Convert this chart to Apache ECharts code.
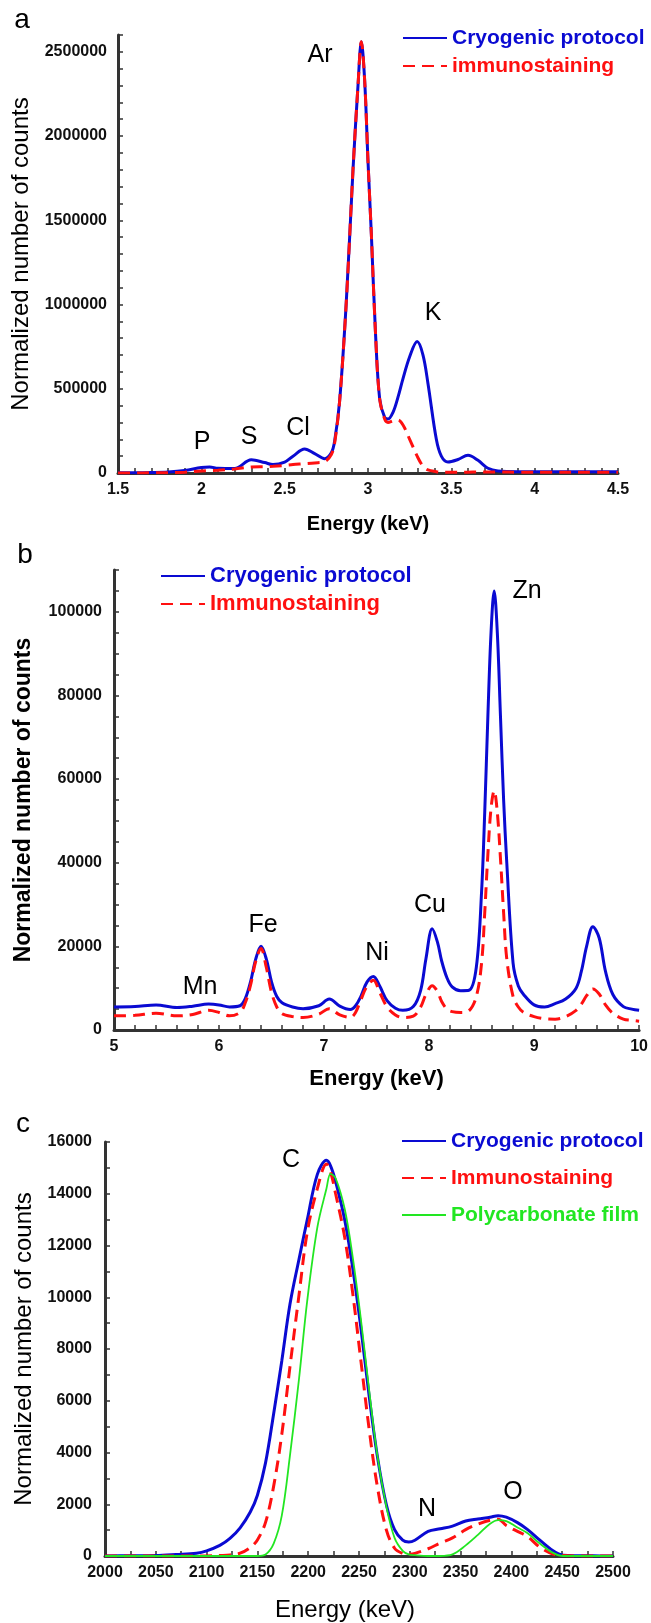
<!DOCTYPE html>
<html>
<head>
<meta charset="utf-8">
<script src="https://cdn.jsdelivr.net/npm/echarts@6/dist/echarts.min.js"></script>
<style>
html,body{margin:0;padding:0;background:#fff;}
#main{width:651px;height:1623px;}
</style>
</head>
<body>
<div id="main"></div>
<script>
// panel a : 1.5 - 4.5 keV
var energyA = [1.5,1.6,1.7,1.8,1.9,2.0,2.05,2.1,2.2,2.3,2.38,2.43,2.5,2.55,2.62,2.68,2.74,2.78,2.8,2.83,2.87,2.91,2.94,2.96,2.98,3.0,3.02,3.045,3.07,3.1,3.12,3.15,3.18,3.21,3.25,3.295,3.33,3.36,3.41,3.44,3.48,3.54,3.6,3.66,3.72,3.78,3.9,4.1,4.3,4.5];
var cryoA = [2000,2000,3000,6000,15000,33000,36000,28000,27000,78000,62000,50000,65000,100000,142000,115000,85000,120000,190000,430000,1020000,1800000,2300000,2560000,2330000,1850000,1420000,830000,440000,330000,320000,360000,450000,560000,690000,780000,700000,530000,200000,100000,65000,80000,105000,75000,28000,12000,8000,8000,8000,8000];
var immunoA = [0,0,1000,2000,5000,12000,14000,16000,24000,36000,38000,40000,45000,50000,55000,60000,68000,110000,180000,430000,1020000,1800000,2300000,2560000,2330000,1850000,1420000,830000,440000,320000,300000,310000,315000,285000,200000,100000,40000,18000,8000,5000,4000,4000,5000,6000,6000,6000,5000,5000,5000,5000];

// panel b : 5 - 10 keV
var energyB = [5.0,5.2,5.4,5.6,5.75,5.9,6.0,6.1,6.2,6.25,6.3,6.35,6.4,6.45,6.5,6.55,6.6,6.7,6.8,6.95,7.05,7.15,7.25,7.3,7.35,7.41,7.47,7.53,7.6,7.68,7.75,7.85,7.92,7.97,8.03,8.08,8.12,8.17,8.22,8.3,8.38,8.45,8.5,8.53,8.56,8.59,8.62,8.65,8.68,8.71,8.74,8.8,8.85,8.9,9.0,9.1,9.2,9.3,9.4,9.45,9.5,9.56,9.62,9.68,9.75,9.85,9.93,10.0];
var cryoB = [5500,5600,6000,5400,5700,6200,6000,5500,5800,7500,11500,17000,20000,17000,11500,8000,6500,5500,5100,5800,7400,5700,4900,5800,8000,11500,12800,10500,7000,5200,4700,5600,9500,17000,24200,21000,16500,12500,10300,9400,9500,15000,33000,52000,75000,95000,105000,95000,75000,55000,40000,16000,10500,8500,6000,5500,6300,7400,10000,14000,20000,24700,22000,14000,8500,5600,5000,4700];
var immunoB = [3400,3500,4000,3400,3700,4700,4200,3400,4200,6500,10700,16500,19500,15000,9000,5500,3900,3200,3000,3800,5100,3600,3000,4200,7200,10500,11900,9000,5500,3600,3000,3300,5500,8500,10600,9200,6800,5000,4400,4200,4600,8000,16000,28000,42000,53000,57200,52000,41000,28000,17000,8000,5500,4200,3200,2700,2600,3200,4700,6200,8200,9800,8600,6000,4000,2600,2300,2100];

// panel c : 2000 - 2500
var energyC = [2000,2025,2050,2070,2090,2100,2113,2123,2133,2143,2150,2158,2166,2174,2182,2191,2199,2209,2218,2222,2227,2236,2244,2252,2260,2268,2277,2285,2293,2299,2305,2318,2330,2342,2355,2367,2379,2387,2395,2406,2416,2428,2441,2451,2465,2480,2500];
var cryoC = [0,10,20,60,110,200,410,680,1090,1700,2350,3600,5500,7540,9720,11480,12980,14750,15290,15080,14470,12980,11080,8770,6180,3870,1970,1020,610,540,610,950,1050,1155,1350,1430,1500,1560,1500,1290,1020,610,200,30,10,5,0];
var immunoC = [0,0,0,0,0,0,20,40,110,330,620,1300,2700,4700,7300,10100,12500,14200,15150,14850,14000,12300,10100,7500,4900,2700,1000,300,100,70,100,280,500,700,1020,1230,1380,1420,1180,950,750,340,70,20,0,0,0];
var filmC = [0,0,0,0,0,0,0,0,0,0,0,60,480,1560,3870,6860,9850,12700,14200,14770,14600,13400,11500,9100,6400,3900,1900,700,200,60,30,0,0,60,410,815,1250,1390,1350,1100,880,480,120,0,0,0,0];

var FONT = 'Liberation Sans';
var BLUE = '#0a0ad2', RED = '#ff1010', GREEN = '#22e622', AXIS = '#333';

function zip(xs, ys) {
    return xs.map(function (x, i) { return [x, ys[i]]; });
}

function every(step, dec) {
    return function (v) {
        var r = v / step;
        if (Math.abs(r - Math.round(r)) > 1e-6) return '';
        return String(Math.round(v * dec) / dec);
    };
}

function xAxis(grid, min, max, step, labelStep, dec, name, gap, nameStyle) {
    return {
        type: 'value', gridIndex: grid, min: min, max: max, interval: step,
        name: name, nameLocation: 'middle', nameGap: gap, nameTextStyle: nameStyle,
        axisLine: {lineStyle: {color: AXIS, width: 3}},
        axisTick: {inside: true, length: 5, lineStyle: {color: AXIS, width: 1.5}},
        axisLabel: {formatter: every(labelStep, dec), color: '#111', fontFamily: FONT, fontWeight: 'bold', fontSize: 16, margin: 9},
        splitLine: {show: false}
    };
}

function yAxis(grid, max, step, labelStep, name, gap, nameStyle, margin) {
    return {
        type: 'value', gridIndex: grid, min: 0, max: max, interval: step,
        name: name, nameLocation: 'middle', nameGap: gap, nameRotate: 90, nameTextStyle: nameStyle,
        axisLine: {show: true, lineStyle: {color: AXIS, width: 3}},
        axisTick: {show: true, inside: true, length: 5, lineStyle: {color: AXIS, width: 1.5}},
        axisLabel: {formatter: every(labelStep, 1), color: '#111', fontFamily: FONT, fontWeight: 'bold', fontSize: 16, margin: margin},
        splitLine: {show: false}
    };
}

function line(name, data, idx, color, width, dashed) {
    return {
        name: name, type: 'line', xAxisIndex: idx, yAxisIndex: idx,
        data: data, symbol: 'none', smooth: 0.35,
        lineStyle: {color: color, width: width, type: dashed ? [12, 7] : 'solid'},
        itemStyle: {color: color}
    };
}

function label(text, x, y, size) {
    return {type: 'text', x: x, y: y, style: {text: text, font: (size || 25) + 'px ' + FONT, fill: '#000', align: 'center', verticalAlign: 'middle'}};
}

function legend(left, top, gap, size, items) {
    return {
        left: left, top: top, orient: 'vertical', itemWidth: 44, itemHeight: 14, itemGap: gap,
        itemStyle: {opacity: 0},
        textStyle: {fontFamily: FONT, fontSize: size, fontWeight: 'bold', lineHeight: 24},
        data: items
    };
}

var titleReg = {fontFamily: FONT, fontSize: 24, color: '#000'};
var titleBold = {fontFamily: FONT, fontSize: 23, fontWeight: 'bold', color: '#000'};

var myChart = echarts.init(document.getElementById('main'));
var option = {
    animation: false,
    backgroundColor: '#fff',
    grid: [
        {left: 118, top: 35, width: 500, height: 438},
        {left: 114, top: 570, width: 526, height: 460},
        {left: 105, top: 1142, width: 508, height: 423}
    ],
    xAxis: [
        xAxis(0, 1.5, 4.5, 0.1, 0.5, 10, 'Energy (keV)', 41, {fontFamily: FONT, fontSize: 20, fontWeight: 'bold', color: '#000'}),
        xAxis(1, 5, 10, 0.2, 1, 1, 'Energy (keV)', 38, {fontFamily: FONT, fontSize: 22, fontWeight: 'bold', color: '#000'}),
        xAxis(2, 2000, 2500, 25, 50, 1, 'Energy (keV)', 42, {fontFamily: FONT, fontSize: 24, color: '#000', padding: [0, 28, 0, 0]})
    ],
    yAxis: [
        yAxis(0, 2600000, 100000, 500000, 'Normalized number of counts', 81, titleReg, 11),
        yAxis(1, 110000, 5000, 20000, 'Normalized number of counts', 79, titleBold, 12),
        yAxis(2, 16000, 1000, 2000, 'Normalized number of counts', 69, titleReg, 13)
    ],
    legend: [
        legend(397, 21, 4, 21, [{name: 'Cryogenic protocol', textStyle: {color: BLUE}}, {name: 'immunostaining', textStyle: {color: RED}}]),
        legend(155, 559, 4, 22, [{name: 'Cryogenic protocol', textStyle: {color: BLUE}}, {name: 'Immunostaining', textStyle: {color: RED}}]),
        legend(396, 1124, 13, 21, [{name: 'Cryogenic protocol', textStyle: {color: BLUE}}, {name: 'Immunostaining', textStyle: {color: RED}}, {name: 'Polycarbonate film', textStyle: {color: GREEN}}])
    ],
    series: [
        line('Cryogenic protocol', zip(energyA, cryoA), 0, BLUE, 3, false),
        line('immunostaining', zip(energyA, immunoA), 0, RED, 3, true),
        line('Cryogenic protocol', zip(energyB, cryoB), 1, BLUE, 3, false),
        line('Immunostaining', zip(energyB, immunoB), 1, RED, 3, true),
        line('Cryogenic protocol', zip(energyC, cryoC), 2, BLUE, 3, false),
        line('Immunostaining', zip(energyC, immunoC), 2, RED, 3, true),
        line('Polycarbonate film', zip(energyC, filmC), 2, GREEN, 1.8, false)
    ],
    graphic: [
        label('a', 22, 20, 28), label('b', 25, 555, 28), label('c', 23, 1124, 28),
        label('P', 202, 442), label('S', 249, 437), label('Cl', 298, 428), label('Ar', 320, 55), label('K', 433, 313),
        label('Mn', 200, 987), label('Fe', 263, 925), label('Ni', 377, 953), label('Cu', 430, 905), label('Zn', 527, 591),
        label('C', 291, 1160), label('N', 427, 1509), label('O', 513, 1492)
    ]
};
myChart.setOption(option);
</script>
</body>
</html>
